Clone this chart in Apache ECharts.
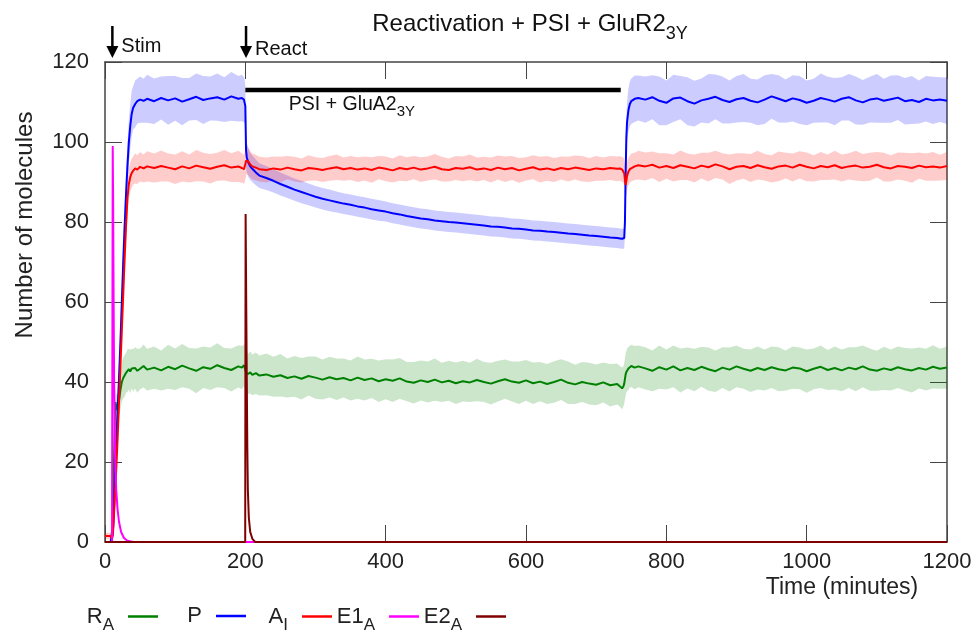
<!DOCTYPE html>
<html>
<head>
<meta charset="utf-8">
<script src="https://cdn.jsdelivr.net/npm/echarts@6/dist/echarts.min.js"></script>
<style>html,body{margin:0;padding:0;background:#fff}#c{width:977px;height:634px}</style>
</head>
<body>
<div id="c"></div>
<script>
// ---------------- DATA ----------------
const time = [0,5,8,10,11,12,13,14,15,16,18,20,22,24,26,28,30,32,34,36,38,40,43,46,50,55,60,
  70,80,90,100,110,120,130,140,150,160,170,180,190,
  195,198,199,200,201,202,204,207,210,215,220,
  230,240,250,260,270,280,290,300,310,320,330,340,350,360,370,380,390,400,410,420,430,440,450,460,470,480,490,500,510,520,530,540,550,560,570,580,590,600,610,620,630,640,650,660,670,680,690,700,710,720,730,
  734,737,739,740,741,742,743,744,746,748,750,755,760,
  770,780,790,800,810,820,830,840,850,860,870,880,890,900,910,920,930,940,950,960,970,980,990,1000,1010,1020,1030,1040,1050,1060,1070,1080,1090,1100,1110,1120,1130,1140,1150,1160,1170,1180,1190,1200];

// R_A (green)
const rA = [0,0,0,0,4,12,22,31,35,33,32.5,35.5,38,40,41,41.5,42.3,42.8,43.2,42.6,43.4,42.9,43.5,42.8,43.3,44.0,43.1,
  43.6,42.9,43.8,43.2,44.1,43.4,42.8,43.7,43.3,44.2,43.5,43.0,43.9,
  43.6,44.2,43.8,43.0,42.3,42.6,42.0,42.4,41.8,42.2,41.6,
  41.9,41.3,41.7,41.0,41.4,40.8,41.5,41.1,40.6,41.2,40.7,41.0,40.4,41.1,40.5,40.9,40.2,40.7,40.3,40.9,40.1,39.8,40.4,40.0,40.6,39.9,40.3,39.7,40.2,39.9,40.5,40.0,39.6,40.2,40.7,40.1,39.8,40.4,39.7,40.1,39.5,40.0,40.6,39.8,39.4,40.0,39.6,39.3,39.9,39.2,39.5,
  38.9,38.4,39.0,39.6,40.8,41.9,42.5,43.0,43.4,43.8,44.0,43.6,43.9,
  43.4,42.8,43.7,43.1,43.9,42.9,43.5,43.0,43.8,43.2,42.7,43.6,43.1,43.9,43.3,42.8,43.5,43.0,43.7,43.2,42.9,43.6,43.4,42.7,43.3,43.8,43.0,43.5,42.9,43.6,43.2,43.9,43.1,42.8,43.4,43.0,43.7,43.2,42.9,43.5,43.1,43.8,43.3,43.6];
const rABand = [0,0,0,0,0.5,1.2,2,3,3.6,4,4.3,4.6,4.8,5,5.1,5.2,5.0,5.3,5.1,5.4,5.0,5.3,5.2,5.5,5.1,5.4,5.2,
  5.3,5.0,5.5,5.2,5.4,5.1,5.6,5.2,5.3,5.5,5.0,5.4,5.3,
  5.4,5.2,5.5,5.3,5.1,5.2,5.0,5.3,5.1,5.2,5.0,
  5.2,5.0,5.3,4.9,5.1,5.2,4.9,5.3,5.0,5.1,5.2,4.9,5.0,5.3,5.1,4.9,5.2,5.0,5.3,5.1,4.9,5.2,5.0,5.1,5.3,4.9,5.0,5.2,5.1,4.9,5.3,5.0,5.2,5.1,4.9,5.0,5.3,5.1,5.2,4.9,5.0,5.2,5.1,5.3,4.9,5.0,5.2,5.1,5.0,5.3,5.1,
  5.1,5.2,5.0,5.1,5.2,5.3,5.2,5.3,5.4,5.2,5.3,5.4,5.2,
  5.3,5.1,5.4,5.0,5.2,5.5,5.1,5.3,5.0,5.4,5.2,5.1,5.5,5.2,5.0,5.3,5.4,5.1,5.2,5.5,5.0,5.3,5.2,5.4,5.1,5.3,5.0,5.4,5.2,5.1,5.5,5.2,5.3,5.0,5.4,5.1,5.2,5.3,5.5,5.1,5.2,5.4,5.0,5.3];

// P (blue)
const p = [0,0,0,0.5,2,5,9,14,19,24,33,41,50,60,70,79,87,94,100,104,107,108.5,109.5,110.2,110.6,110.3,110.8,
  110.2,111.0,110.4,110.9,110.1,110.7,111.3,110.5,110.9,111.2,110.6,111.4,110.8,
  111.0,110.6,110.2,109.0,98.0,96.2,95.0,93.9,93.3,92.4,91.6,
  91.0,90.3,89.5,88.8,88.1,87.5,86.9,86.3,85.8,85.4,85.0,84.6,84.3,83.9,83.6,83.2,82.9,82.6,82.2,81.9,81.5,81.2,80.9,80.7,80.4,80.2,80.0,79.9,79.7,79.5,79.3,79.1,78.9,78.8,78.6,78.4,78.3,78.1,77.9,77.8,77.6,77.5,77.3,77.1,77.0,76.8,76.6,76.5,76.3,76.1,76.0,
  75.9,75.8,75.8,76.0,80,92,101,105,108,109.5,110.2,110.8,111.0,
  110.6,111.2,110.3,109.8,110.9,111.1,110.2,109.6,110.4,110.8,111.3,110.5,110.0,110.7,111.0,110.3,109.9,110.6,111.4,110.8,110.2,110.9,110.5,109.8,110.3,111.0,110.6,110.1,110.8,111.2,110.4,109.9,110.6,110.9,110.3,110.7,111.1,110.2,110.5,110.0,110.8,110.4,110.6,110.3];
const pBand = [0,0,0,0.3,0.8,1.4,2,2.6,3.1,3.6,4.2,4.6,5,5.2,5.4,5.5,5.6,5.4,5.7,5.5,5.8,5.4,5.9,5.6,5.8,5.5,6.0,
  5.7,5.4,6.1,5.6,5.9,5.3,5.8,6.0,5.5,5.9,5.6,6.1,5.7,
  5.8,5.6,5.5,5.0,4.2,3.8,3.6,3.4,3.3,3.2,3.1,
  3.0,2.9,2.9,2.8,2.8,2.8,2.7,2.7,2.7,2.7,2.6,2.6,2.6,2.6,2.6,2.6,2.6,2.5,2.5,2.5,2.5,2.5,2.5,2.5,2.5,2.5,2.5,2.5,2.5,2.5,2.5,2.5,2.5,2.5,2.5,2.5,2.5,2.5,2.5,2.5,2.5,2.5,2.5,2.5,2.5,2.5,2.5,2.5,2.5,2.5,2.5,
  2.5,2.5,2.5,2.6,3.2,4.0,4.6,5.0,5.4,5.6,5.7,5.8,5.6,
  5.8,5.5,6.1,5.6,5.9,5.4,6.0,5.7,5.5,6.2,5.6,5.9,5.4,5.8,6.0,5.5,5.7,6.1,5.6,5.9,5.4,5.8,6.0,5.6,5.5,6.1,5.7,5.9,5.4,5.8,6.0,5.6,5.7,6.1,5.5,5.9,5.6,5.8,6.0,5.4,5.7,5.9,5.6,5.8];

// A_I (red)
const aI = [1.5,1.5,1.5,0.8,1.5,4,7.5,11,14.5,18,26,35,44,53,62,71,79,86,89.5,91.2,92.2,92.8,93.4,93.1,93.8,93.4,93.9,
  93.5,94.0,93.6,93.2,93.9,93.4,94.1,93.7,93.3,93.8,94.2,93.6,93.9,
  93.5,93.2,93.6,94.5,95.3,95.6,95.2,94.4,93.9,93.6,93.2,
  93.0,93.4,93.1,93.6,93.2,92.9,93.5,93.3,93.0,93.4,93.7,93.2,93.5,93.1,93.4,93.0,93.6,93.3,92.9,93.5,93.2,93.6,93.1,93.4,93.8,93.2,93.0,93.5,93.3,93.7,93.1,93.4,93.0,93.6,93.2,93.5,92.9,93.3,93.7,93.1,93.4,93.0,93.5,93.2,93.6,93.3,93.0,93.4,93.2,93.5,93.3,
  93.4,93.1,93.0,92.2,90.5,89.3,90.2,91.5,92.6,93.2,93.6,93.9,94.2,
  93.9,94.3,93.6,94.0,93.5,94.2,93.8,93.4,94.1,93.7,94.4,93.9,93.2,93.8,94.0,93.5,94.2,93.7,93.3,93.9,94.1,93.6,94.3,93.8,93.4,94.0,93.7,94.2,93.5,93.9,94.1,93.6,93.8,94.3,93.7,93.4,94.0,93.8,93.5,94.1,93.7,93.9,93.6,94.0];
const aIBand = [0.8,0.8,0.8,0.6,0.8,1.2,1.6,2,2.3,2.6,3,3.2,3.4,3.5,3.6,3.6,3.7,3.6,3.8,3.6,3.7,3.5,3.8,3.6,3.7,3.5,3.8,
  3.6,3.9,3.5,3.7,3.8,3.5,3.9,3.6,3.7,3.5,3.8,3.6,3.9,
  3.7,3.6,3.8,3.9,3.8,3.6,3.4,3.3,3.2,3.2,3.1,
  3.1,3.0,3.2,2.9,3.1,3.0,3.2,2.9,3.0,3.1,3.2,2.9,3.0,3.1,3.0,3.2,2.9,3.1,3.0,3.2,3.0,2.9,3.1,3.0,3.2,3.1,2.9,3.0,3.1,3.2,3.0,2.9,3.1,3.0,3.2,3.0,3.1,2.9,3.0,3.2,3.1,3.0,2.9,3.1,3.0,3.2,3.0,3.1,2.9,3.0,3.1,
  3.1,3.1,3.2,3.3,3.5,3.7,3.6,3.5,3.4,3.4,3.5,3.4,3.6,
  3.5,3.3,3.6,3.2,3.4,3.7,3.3,3.5,3.2,3.6,3.4,3.3,3.7,3.4,3.2,3.5,3.6,3.3,3.4,3.7,3.2,3.5,3.4,3.6,3.3,3.5,3.2,3.6,3.4,3.3,3.7,3.4,3.5,3.2,3.6,3.3,3.4,3.5,3.7,3.3,3.4,3.6,3.2,3.5];

// E1_A (magenta) spike after stimulation
const e1Time   = [0,10,10.6,11,11.6,12.3,13,14,15,16,18,20,23,27,32,40,1200];
const e1Values = [0,0,0,99,85,60,40,25,18,13,8,5,2.5,1,0.3,0,0];

// E2_A (dark red) spike after reactivation
const e2Time   = [0,199.8,200.4,201.2,202,202.8,203.6,205,207,210,214,1200];
const e2Values = [0,0,82,62,42,24,13,6,2.5,0.8,0,0];

// annotations
const markerTimes  = [10.5, 201];
const markerLabels = ['Stim', 'React'];
const psiBarTimes  = [200, 735];
const psiBarLevel  = 113;

const seriesNames = ['RA', 'P', 'AI', 'E1A', 'E2A'];
const legendMain  = ['R', 'P', 'A', 'E1', 'E2'];
const legendSub   = ['A', '', 'I', 'A', 'A'];

// ---------------- CHART ----------------
const FONT = 'Liberation Sans';
const colors = { RA: '#008000', P: '#0000ff', AI: '#ff0000', E1A: '#ff00ff', E2A: '#800000' };
const chart = echarts.init(document.getElementById('c'), null, { renderer: 'canvas' });

function pairs(tt, vv) { return tt.map((t, i) => [t, vv[i]]); }

function band(mean, hw, fill) {
  return {
    type: 'custom', silent: true, z: 1, clip: true,
    data: [[0, 0]],
    renderItem: function (params, api) {
      const up = [], lo = [];
      for (let i = 0; i < time.length; i++) {
        up.push(api.coord([time[i], mean[i] + hw[i]]));
        lo.push(api.coord([time[i], Math.max(0, mean[i] - hw[i])]));
      }
      return { type: 'polygon', shape: { points: up.concat(lo.reverse()) }, style: { fill: fill } };
    }
  };
}

function line(name, data, z) {
  return {
    type: 'line', name: name, data: data, symbol: 'none', showSymbol: false, z: z, clip: true,
    lineStyle: { width: 2, color: colors[name] }, itemStyle: { color: colors[name] }
  };
}

const axisLine = { show: true, onZero: false, lineStyle: { color: '#444', width: 1.5 } };
const axisTick = { show: true, inside: true, length: 17, lineStyle: { color: '#444', width: 1 } };
const plain = v => String(v);
const xCommon = { type: 'value', min: 0, max: 1200, interval: 200, splitLine: { show: false }, axisLine: axisLine, axisTick: axisTick };
const yCommon = { type: 'value', min: 0, max: 120, interval: 20, splitLine: { show: false }, axisLine: axisLine, axisTick: axisTick };

const legendRight = [819, 731, 645, 558, 471];
const legends = seriesNames.map((n, i) => ({
  data: [n], right: legendRight[i], top: legendSub[i] ? 599 : 605, align: 'right', padding: 0,
  icon: 'rect', itemWidth: 30, itemHeight: 2.5, itemGap: 0, selectedMode: false,
  formatter: function () {
    return '{m|' + legendMain[i] + '}' + (legendSub[i] ? '{s|' + legendSub[i] + '}' : '') + '{g|}';
  },
  textStyle: {
    rich: {
      m: { fontFamily: FONT, fontSize: 22, color: '#222', verticalAlign: 'middle', lineHeight: 24 },
      s: { fontFamily: FONT, fontSize: 17, color: '#222', verticalAlign: 'middle', lineHeight: 18, padding: [18, 0, 0, 0] },
      g: { width: 9 }
    }
  }
}));

const option = {
  animation: false,
  backgroundColor: '#fff',
  grid: { left: 105, right: 30, top: 62, bottom: 92, containLabel: false },
  title: {
    text: '{m|Reactivation + PSI + GluR2}{s|3Y}',
    left: 530, top: 11, textAlign: 'center', padding: 0,
    textStyle: {
      fontWeight: 'normal',
      rich: {
        m: { fontFamily: FONT, fontSize: 24, fontWeight: 'normal', color: '#111', verticalAlign: 'middle', lineHeight: 26 },
        s: { fontFamily: FONT, fontSize: 18, fontWeight: 'normal', color: '#111', verticalAlign: 'middle', lineHeight: 19, padding: [20, 0, 0, 0] }
      }
    }
  },
  legend: legends,
  xAxis: [
    Object.assign({}, xCommon, { position: 'bottom', axisLabel: { fontFamily: FONT, fontSize: 22, color: '#222', margin: 9, formatter: plain } }),
    Object.assign({}, xCommon, { position: 'top', axisLabel: { show: false } })
  ],
  yAxis: [
    Object.assign({}, yCommon, { position: 'left', axisLabel: { fontFamily: FONT, fontSize: 22, color: '#222', margin: 16, formatter: plain } }),
    Object.assign({}, yCommon, { position: 'right', axisLabel: { show: false } })
  ],
  series: [
    band(rA, rABand, 'rgba(0,128,0,0.2)'),
    band(p, pBand, 'rgba(0,0,255,0.2)'),
    band(aI, aIBand, 'rgba(255,0,0,0.2)'),
    line('RA', pairs(time, rA), 3),
    line('P', pairs(time, p), 4),
    line('AI', pairs(time, aI), 5),
    line('E1A', pairs(e1Time, e1Values), 6),
    line('E2A', pairs(e2Time, e2Values), 7),
    {
      type: 'line', data: psiBarTimes.map(t => [t, psiBarLevel]), symbol: 'none', z: 8, silent: true,
      lineStyle: { width: 4.5, color: '#000' }, clip: false
    }
  ]
};
chart.setOption(option);

// annotations placed through the axes' scale
const graphics = [];
markerTimes.forEach((t, i) => {
  const x = chart.convertToPixel({ xAxisIndex: 0 }, t);
  graphics.push({ type: 'line', shape: { x1: x, y1: 26, x2: x, y2: 50 }, style: { stroke: '#000', lineWidth: 2.5 } });
  graphics.push({ type: 'polygon', shape: { points: [[x - 6, 46], [x + 6, 46], [x, 58]] }, style: { fill: '#000' } });
  graphics.push({ type: 'text', x: x + 9, y: i === 0 ? 46 : 49, style: { text: markerLabels[i], font: '20px "' + FONT + '"', fill: '#111', verticalAlign: 'middle' } });
});
const psiPt = chart.convertToPixel({ xAxisIndex: 0, yAxisIndex: 0 }, [262, 109.3]);
graphics.push({ type: 'text', x: psiPt[0], y: psiPt[1], style: {
  text: '{m|PSI + GluA2}{s|3Y}', verticalAlign: 'middle',
  rich: {
    m: { fontFamily: FONT, fontSize: 19.5, fill: '#111', verticalAlign: 'middle', lineHeight: 22 },
    s: { fontFamily: FONT, fontSize: 15, fill: '#111', verticalAlign: 'middle', lineHeight: 16, padding: [14, 0, 0, 0] }
  }
}});
graphics.push({ type: 'text', x: 25, y: 225, rotation: Math.PI / 2, style: {
  text: 'Number of molecules', font: '24px "' + FONT + '"', fill: '#222', align: 'center', verticalAlign: 'middle' } });
graphics.push({ type: 'text', x: 842, y: 588, style: {
  text: 'Time (minutes)', font: '23px "' + FONT + '"', fill: '#222', align: 'center', verticalAlign: 'middle' } });
chart.setOption({ graphic: graphics });
</script>
</body>
</html>
